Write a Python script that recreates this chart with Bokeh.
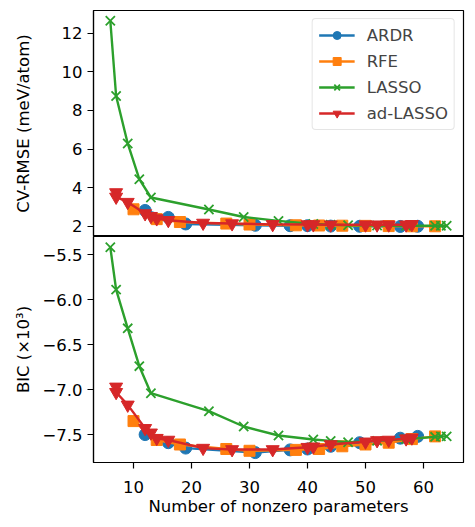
from bokeh.plotting import figure
from bokeh.layouts import column
from bokeh.models import Range1d, FixedTicker, CustomJSTickFormatter, Legend, LegendItem
from bokeh.embed import file_html
from bokeh.resources import INLINE

# ---- data ----
ardr_n = [12, 16, 19, 31, 37, 40, 44, 49, 56, 59]
ardr_cv = [2.82, 2.46, 2.12, 2.05, 2.03, 2.03, 2.01, 2.00, 1.99, 2.00]
ardr_bic = [-7.50, -7.59, -7.65, -7.70, -7.67, -7.66, -7.63, -7.59, -7.54, -7.52]

rfe_n = [10, 14, 18, 26, 30, 38, 42, 46, 50, 54, 58, 62]
rfe_cv = [2.88, 2.37, 2.22, 2.14, 2.09, 2.05, 2.04, 2.03, 2.02, 2.01, 2.00, 2.00]
rfe_bic = [-7.35, -7.56, -7.61, -7.66, -7.68, -7.67, -7.66, -7.63, -7.61, -7.59, -7.55, -7.52]

lasso_n = [6, 7, 9, 11, 13, 23, 29, 35, 41, 44, 47, 52, 57, 62, 63, 64]
lasso_cv = [12.65, 8.75, 6.29, 4.44, 3.49, 2.87, 2.48, 2.28, 2.12, 2.08, 2.05, 2.04, 2.03, 2.03, 2.03, 2.03]
lasso_bic = [-5.42, -5.89, -6.32, -6.74, -7.04, -7.24, -7.41, -7.51, -7.555, -7.57, -7.585, -7.57, -7.55, -7.525, -7.52, -7.52]

adl_n = [7, 7, 9, 12, 13, 14, 16, 22, 27, 34, 40, 41, 44, 50, 52, 54, 57, 58]
adl_cv = [3.75, 3.52, 3.25, 2.66, 2.52, 2.40, 2.31, 2.17, 2.14, 2.10, 2.09, 2.09, 2.08, 2.08, 2.08, 2.08, 2.08, 2.10]
adl_bic = [-6.97, -7.03, -7.17, -7.43, -7.48, -7.54, -7.56, -7.65, -7.665, -7.665, -7.64, -7.635, -7.61, -7.58, -7.565, -7.56, -7.545, -7.535]

labels = ["ARDR", "RFE", "LASSO", "ad-LASSO"]
x_ticks = [10, 20, 30, 40, 50, 60]
cv_ticks = [2, 4, 6, 8, 10, 12]
bic_ticks = [-7.5, -7.0, -6.5, -6.0, -5.5]

colors = ["#1f77b4", "#ff7f0e", "#2ca02c", "#d62728"]
markers = ["circle", "square", "x", "inverted_triangle"]
msizes = [12, 11, 13, 13]

FONT = "DejaVu Sans"
FS = "16.5px"

xr = Range1d(3.1, 66.9)


def style(p):
    p.xgrid.visible = False
    p.ygrid.visible = False
    p.outline_line_color = "black"
    p.outline_line_width = 1.2
    p.background_fill_color = "white"
    p.border_fill_color = "white"
    for ax in p.xaxis + p.yaxis:
        ax.axis_line_color = "black"
        ax.axis_line_width = 1.2
        ax.major_tick_line_color = "black"
        ax.major_tick_line_width = 1.2
        ax.major_tick_out = 6
        ax.major_tick_in = 0
        ax.minor_tick_line_color = None
        ax.major_label_text_font = FONT
        ax.major_label_text_font_size = FS
        ax.major_label_text_color = "black"
        ax.axis_label_text_font = FONT
        ax.axis_label_text_font_size = FS
        ax.axis_label_text_font_style = "normal"
        ax.axis_label_text_color = "black"


def draw(p, xs, ys, i):
    l = p.line(xs, ys, line_color=colors[i], line_width=2.4)
    if markers[i] == "x":
        s = p.scatter(xs, ys, marker="x", size=msizes[i], line_color=colors[i], line_width=1.8)
    else:
        s = p.scatter(xs, ys, marker=markers[i], size=msizes[i], fill_color=colors[i], line_color=colors[i])
    return l, s


series_top = [(ardr_n, ardr_cv), (rfe_n, rfe_cv), (lasso_n, lasso_cv), (adl_n, adl_cv)]
series_bot = [(ardr_n, ardr_bic), (rfe_n, rfe_bic), (lasso_n, lasso_bic), (adl_n, adl_bic)]

p1 = figure(width=467, height=236, x_range=xr, y_range=Range1d(1.47, 13.18),
            output_backend="svg", toolbar_location=None,
            min_border_left=93, min_border_right=4, min_border_top=10, min_border_bottom=0)
p1.xaxis.visible = False
p1.yaxis.ticker = FixedTicker(ticks=cv_ticks)
p1.yaxis.axis_label = "CV-RMSE (meV/atom)"
style(p1)
p1.yaxis.axis_label_standoff = 26
p1.yaxis.major_label_standoff = 5

items = []
for i, (xs, ys) in enumerate(series_top):
    l, s = draw(p1, xs, ys, i)
    items.append(LegendItem(label=labels[i], renderers=[l, s]))

leg = Legend(items=items, location="top_right", margin=8, padding=6, spacing=6,
             glyph_width=36, glyph_height=20, label_height=20, label_standoff=12,
             label_text_font=FONT, label_text_font_size=FS,
             border_line_color="#cccccc", border_line_width=1,
             background_fill_alpha=0.8, border_radius=4)
p1.add_layout(leg)

p2 = figure(width=467, height=283, x_range=xr, y_range=Range1d(-7.81, -5.30),
            output_backend="svg", toolbar_location=None,
            min_border_left=93, min_border_right=4, min_border_top=0, min_border_bottom=57)
p2.xaxis.ticker = FixedTicker(ticks=x_ticks)
p2.yaxis.ticker = FixedTicker(ticks=bic_ticks)
p2.yaxis.formatter = CustomJSTickFormatter(code="return tick.toFixed(1).replace('-', '\u2212');")
p2.xaxis.axis_label = "Number of nonzero parameters"
p2.yaxis.axis_label = "BIC (\u00d710\u00b3)"
style(p2)
p2.yaxis.axis_label_standoff = 6
p2.yaxis.major_label_standoff = 5
p2.xaxis.major_label_standoff = 12
p2.xaxis.axis_label_standoff = 1

for i, (xs, ys) in enumerate(series_bot):
    draw(p2, xs, ys, i)

layout = column(p1, p2, spacing=0)
open("out.html", "w").write(file_html(layout, INLINE))
